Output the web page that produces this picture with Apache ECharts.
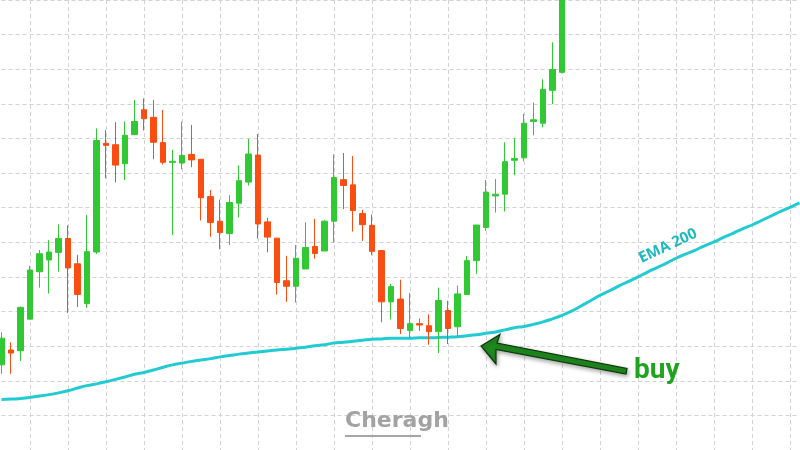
<!DOCTYPE html>
<html>
<head>
<meta charset="utf-8">
<script src="https://cdn.jsdelivr.net/npm/echarts@6/dist/echarts.min.js"></script>
<style>html,body{margin:0;padding:0;background:#fff}#c{width:800px;height:450px}</style>
</head>
<body>
<div id="c"></div>
<script>
// candle index labels (85 bars wide, 60 candles drawn)
const categories = Array.from({length: 85}, (_, i) => String(i + 1));

// OHLC: [open, close, low, high]
const opens  = [24.6,28.9,28.7,37.8,51.5,54.9,57.1,61.1,53.8,42.3,57.2,88.6,88.2,82.7,91.1,98.3,96.1,88.8,83.1,82.9,85.4,84.0,73.2,66.1,62.5,71.3,77.4,85.2,65.9,61.2,48.9,47.3,52.3,58.8,57.5,66.1,78.1,76.6,68.3,64.9,57.6,42.8,43.6,34.5,36.5,35.9,34.2,40.3,35.6,44.9,54.7,64.3,73.4,73.9,83.7,84.4,94.9,94.4,103.9,109.1];
const closes = [32.3,28.0,41.2,52.0,56.7,57.2,61.1,52.6,44.9,57.3,89.4,88.0,82.3,90.9,94.9,95.7,88.9,83.1,83.4,85.1,83.8,72.9,65.7,62.8,71.5,77.8,85.5,65.3,61.5,48.4,47.3,55.4,58.5,56.8,66.1,78.7,76.4,69.2,65.1,57.4,42.8,47.2,35.1,36.5,36.1,34.2,43.2,35.1,45.1,54.7,65.0,74.5,73.9,83.3,84.2,94.4,95.4,104.2,109.9,134.0];
const lows   = [22.0,22.0,25.7,37.7,46.9,45.2,51.5,39.6,41.3,41.1,56.6,78.5,77.3,78.0,91.1,92.3,84.0,82.5,62.1,81.1,81.7,66.3,61.6,58.0,59.2,67.2,76.4,61.1,57.1,44.9,42.8,42.6,52.3,55.3,57.5,59.9,69.6,63.1,60.4,56.3,36.9,37.7,33.5,32.3,34.4,30.4,28.0,30.6,32.8,44.9,50.9,63.3,68.6,68.9,79.4,83.4,90.9,93.2,99.9,108.8];
const highs  = [34.0,31.1,41.4,53.2,57.8,60.6,65.2,64.9,56.4,67.9,92.9,92.4,94.7,94.9,101.1,101.6,101.1,98.2,86.7,94.9,93.9,84.0,75.1,72.3,73.6,82.2,89.9,91.3,67.1,61.2,56.1,59.2,65.8,66.8,66.4,85.4,85.8,84.9,69.4,68.0,57.6,48.0,49.2,45.4,38.0,39.2,46.9,43.1,47.5,56.0,65.0,78.0,78.3,88.9,90.2,97.1,100.4,107.1,117.8,136.0];

// EMA 200, one value per bar
const ema200 = [14.6,14.7,14.9,15.2,15.6,16.0,16.5,17.1,17.9,18.6,19.1,19.7,20.4,21.1,21.9,22.4,23.1,23.9,24.6,25.1,25.6,26.0,26.4,26.9,27.3,27.7,28.0,28.3,28.6,28.9,29.1,29.4,29.7,30.1,30.4,30.9,31.1,31.4,31.7,32.0,32.1,32.3,32.3,32.3,32.4,32.4,32.5,32.6,32.7,33.0,33.3,33.7,34.1,34.7,35.3,35.7,36.3,37.0,37.9,38.9,40.1,41.6,43.1,44.7,46.0,47.4,48.7,50.0,51.4,52.7,54.0,55.4,56.6,57.7,59.0,60.1,61.4,62.6,63.9,65.0,66.3,67.6,68.9,70.1,71.4];

const candles = opens.map((o, i) => [o, closes[i], lows[i], highs[i]]);

const GREEN = '#30c934', RED = '#fa4d12', CYAN = '#22cad2';

const chart = echarts.init(document.getElementById('c'), null, {renderer: 'canvas'});
chart.setOption({
  animation: false,
  backgroundColor: '#ffffff',
  grid: {left: 1.5, right: 0.5, top: -2, bottom: -3, containLabel: false},
  xAxis: {
    type: 'category', data: categories, boundaryGap: false,
    axisLine: {show: false}, axisTick: {show: false}, axisLabel: {show: false},
    splitLine: {show: true, interval: (idx) => (idx - 3) % 4 === 0,
      lineStyle: {color: '#d2d2d2', width: 1, type: [4, 3]}}
  },
  yAxis: {
    type: 'value', min: 0, max: 130, interval: 10,
    axisLine: {show: false}, axisTick: {show: false}, axisLabel: {show: false},
    splitLine: {show: true, lineStyle: {color: '#d2d2d2', width: 1, type: [4, 3]}}
  },
  series: [
    {
      type: 'line', data: ema200, smooth: true, showSymbol: false, z: 1,
      lineStyle: {color: CYAN, width: 3}
    },
    {
      type: 'candlestick', data: candles, barWidth: 6, z: 3, clip: true,
      itemStyle: {color: GREEN, color0: RED, borderColor: GREEN, borderColor0: RED, borderWidth: 1}
    }
  ],
  graphic: [
    {type: 'text', x: 668, y: 246, rotation: 25 * Math.PI / 180, z: 10,
      style: {text: 'EMA 200', font: 'bold 15px "Open Sans", "Liberation Sans", sans-serif',
        fill: '#1db9c1', align: 'center', verticalAlign: 'middle'}},
    {type: 'polygon', z: 10,
      shape: {points: [[481, 346], [500, 334.5], [497, 343], [627, 368.5], [626, 374], [496, 349.5], [496, 364]]},
      style: {fill: '#1f8a1f', stroke: '#0b360b', lineWidth: 1.2,
        shadowBlur: 4, shadowColor: 'rgba(0,0,0,0.35)', shadowOffsetX: 1, shadowOffsetY: 2}},
    {type: 'text', x: 634, y: 371, z: 10,
      style: {text: 'buy', font: 'bold 28px "Roboto", "Liberation Sans", sans-serif', fill: '#20a420',
        align: 'left', verticalAlign: 'middle'}},
    {type: 'text', x: 345, y: 421, z: 10,
      style: {text: 'Cheragh', font: 'bold 22px "DejaVu Sans", sans-serif', fill: '#a2a2a2',
        align: 'left', verticalAlign: 'middle'}},
    {type: 'rect', z: 10, shape: {x: 345, y: 435, width: 76, height: 2}, style: {fill: '#a6a6a6'}}
  ]
});
</script>
</body>
</html>
